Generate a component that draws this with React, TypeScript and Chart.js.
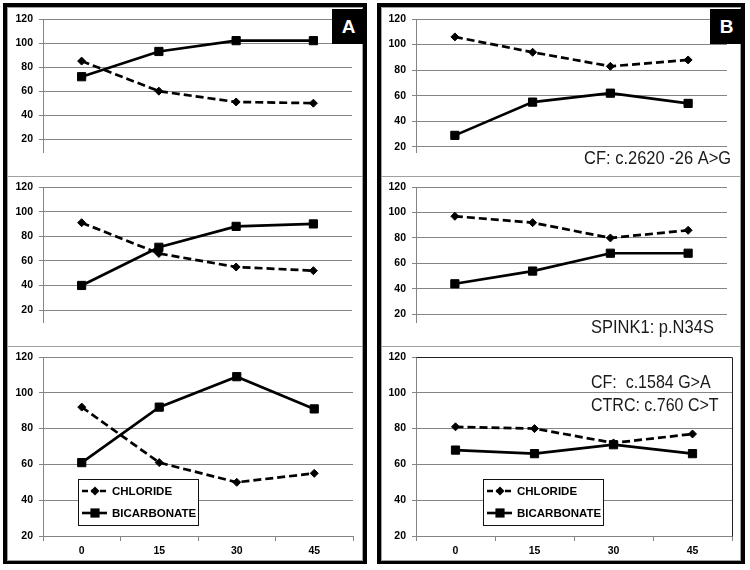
import React, { useEffect, useRef } from "react";
import { Chart, registerables } from "chart.js";

Chart.register(...registerables);

// ---------- data ----------
const timePoints = ["0", "15", "30", "45"];
const yTickValues = [20, 40, 60, 80, 100, 120];
const seriesNames = ["CHLORIDE", "BICARBONATE"];

const chlorideA1 = [85, 60, 51, 50];
const bicarbonateA1 = [72, 93, 102, 102];
const chlorideA2 = [91, 66, 55, 52];
const bicarbonateA2 = [40, 71, 88, 90];
const chlorideA3 = [92, 61, 50, 55];
const bicarbonateA3 = [61, 92, 109, 91];

const chlorideB1 = [106, 94, 83, 88];
const bicarbonateB1 = [29, 55, 62, 54];
const chlorideB2 = [97, 92, 80, 86];
const bicarbonateB2 = [44, 54, 68, 68];
const chlorideB3 = [81, 80, 72, 77];
const bicarbonateB3 = [68, 66, 71, 66];

const notesB1 = ["CF: c.2620 -26 A>G"];
const notesB2 = ["SPINK1: p.N34S"];
const notesB3 = ["CF:  c.1584 G>A", "CTRC: c.760 C>T"];

const panelLetters = ["A", "B"];

// ---------- styles ----------
const FONT = "'Liberation Sans', Arial, sans-serif";
const GRID = "#858585";
const INK = "#000000";

type PanelSpec = {
  key: string;
  left: number;
  top: number;
  width: number;
  height: number;
  axisWidth: number;
  padRight: number;
  padTop: number;
  yMin: number;
  showX: boolean;
  chloride: number[];
  bicarbonate: number[];
  legendAt?: [number, number];
  notes?: string[];
  noteX?: number;
  noteBaselines?: number[];
  noteSize?: number;
  boxed?: boolean;
};

const panels: PanelSpec[] = [
  { key: "A1", left: 7, top: 7, width: 356, height: 169, axisWidth: 36, padRight: 11, padTop: 12, yMin: 9.4, showX: false, chloride: chlorideA1, bicarbonate: bicarbonateA1 },
  { key: "A2", left: 7, top: 176, width: 356, height: 170, axisWidth: 36, padRight: 11, padTop: 11, yMin: 10.3, showX: false, chloride: chlorideA2, bicarbonate: bicarbonateA2 },
  { key: "A3", left: 7, top: 346, width: 356, height: 214, axisWidth: 36, padRight: 10, padTop: 11, yMin: 20, showX: true, chloride: chlorideA3, bicarbonate: bicarbonateA3, legendAt: [71, 133] },
  { key: "B1", left: 381, top: 7, width: 360, height: 169, axisWidth: 35, padRight: 14, padTop: 12, yMin: 16, showX: false, chloride: chlorideB1, bicarbonate: bicarbonateB1, notes: notesB1, noteX: 203, noteBaselines: [157], noteSize: 16.5 },
  { key: "B2", left: 381, top: 176, width: 360, height: 170, axisWidth: 35, padRight: 14, padTop: 11, yMin: 14, showX: false, chloride: chlorideB2, bicarbonate: bicarbonateB2, notes: notesB2, noteX: 210, noteBaselines: [157], noteSize: 16.5 },
  { key: "B3", left: 381, top: 346, width: 360, height: 214, axisWidth: 35, padRight: 9, padTop: 11, yMin: 20, showX: true, chloride: chlorideB3, bicarbonate: bicarbonateB3, legendAt: [102, 133], notes: notesB3, noteX: 210, noteBaselines: [42, 65], noteSize: 16, boxed: true },
];

function drawMarker(ctx: CanvasRenderingContext2D, style: string, x: number, y: number, r: number) {
  ctx.beginPath();
  if (style === "rectRot") {
    ctx.moveTo(x, y - r);
    ctx.lineTo(x + r, y);
    ctx.lineTo(x, y + r);
    ctx.lineTo(x - r, y);
    ctx.closePath();
  } else {
    const h = r * Math.SQRT1_2;
    ctx.rect(x - h, y - h, 2 * h, 2 * h);
  }
  ctx.fill();
}

function makeDecor(spec: PanelSpec) {
  return {
    id: "panelDecor" + spec.key,
    beforeDatasetsDraw(chart: any) {
      if (!spec.boxed) return;
      const { ctx, chartArea: a } = chart;
      ctx.save();
      ctx.strokeStyle = "#222";
      ctx.lineWidth = 1;
      ctx.beginPath();
      ctx.moveTo(Math.round(a.left) + 0.5, Math.round(a.top) + 0.5);
      ctx.lineTo(Math.round(a.right) + 0.5, Math.round(a.top) + 0.5);
      ctx.lineTo(Math.round(a.right) + 0.5, Math.round(a.bottom) + 0.5);
      ctx.stroke();
      ctx.restore();
    },
    afterDraw(chart: any) {
      const ctx: CanvasRenderingContext2D = chart.ctx;
      ctx.save();
      if (spec.notes && spec.noteBaselines) {
        ctx.fillStyle = "#1a1a1a";
        ctx.font = `${spec.noteSize || 16}px ${FONT}`;
        ctx.textAlign = "left";
        ctx.textBaseline = "alphabetic";
        spec.notes.forEach((t, i) => {
          ctx.save();
          ctx.translate(spec.noteX || 0, spec.noteBaselines![i]);
          ctx.scale(1, 1.12);
          ctx.fillText(t, 0, 0);
          ctx.restore();
        });
      }
      if (spec.legendAt) {
        const [bx, by] = spec.legendAt;
        const bw = 120;
        const bh = 46;
        ctx.fillStyle = "#ffffff";
        ctx.fillRect(bx, by, bw, bh);
        ctx.strokeStyle = "#111";
        ctx.lineWidth = 1;
        ctx.strokeRect(bx + 0.5, by + 0.5, bw, bh);
        chart.data.datasets.forEach((ds: any, i: number) => {
          const cy = by + 12 + i * 22;
          ctx.strokeStyle = INK;
          ctx.lineWidth = 2.6;
          ctx.setLineDash(ds.borderDash ? [6, 3] : []);
          ctx.beginPath();
          ctx.moveTo(bx + 4, cy);
          ctx.lineTo(bx + 29, cy);
          ctx.stroke();
          ctx.setLineDash([]);
          ctx.fillStyle = INK;
          drawMarker(ctx, ds.pointStyle, bx + 17, cy, ds.pointStyle === "rectRot" ? 4.5 : 6.5);
          ctx.font = `bold 11.5px ${FONT}`;
          ctx.textAlign = "left";
          ctx.textBaseline = "middle";
          ctx.fillText(ds.label, bx + 34, cy + 0.5);
        });
      }
      ctx.restore();
    },
  };
}

function buildConfig(spec: PanelSpec): any {
  return {
    type: "line",
    data: {
      labels: timePoints,
      datasets: [
        {
          label: seriesNames[0],
          data: spec.chloride,
          borderColor: INK,
          backgroundColor: INK,
          borderWidth: 2.7,
          borderDash: [8, 4],
          pointStyle: "rectRot",
          pointRadius: 4,
          pointBorderWidth: 1,
          pointBorderColor: INK,
          pointBackgroundColor: INK,
          tension: 0,
        },
        {
          label: seriesNames[1],
          data: spec.bicarbonate,
          borderColor: INK,
          backgroundColor: INK,
          borderWidth: 2.7,
          pointStyle: "rect",
          pointRadius: 5.8,
          pointBorderWidth: 1,
          pointBorderColor: INK,
          pointBackgroundColor: INK,
          tension: 0,
        },
      ],
    },
    options: {
      animation: false,
      responsive: false,
      maintainAspectRatio: false,
      layout: { padding: { left: 0, right: spec.padRight, top: spec.padTop, bottom: 0 } },
      plugins: {
        legend: { display: false },
        tooltip: { enabled: false },
        title: { display: false },
      },
      scales: {
        x: {
          type: "category",
          offset: true,
          display: spec.showX,
          grid: { offset: true, drawOnChartArea: false, drawTicks: true, tickLength: 5, color: GRID, lineWidth: 1 },
          border: { display: true, color: GRID, width: 1 },
          ticks: { color: INK, padding: 4, maxRotation: 0, autoSkip: false, font: { family: FONT, size: 10.5, weight: "bold" } },
          afterFit: (s: any) => {
            s.height = 24;
            s.paddingLeft = 0;
            s.paddingRight = 0;
          },
        },
        y: {
          type: "linear",
          min: spec.yMin,
          max: 120,
          afterBuildTicks: (s: any) => {
            s.ticks = yTickValues.map((v) => ({ value: v }));
          },
          grid: { color: GRID, lineWidth: 1, tickLength: 4, drawTicks: true },
          border: { display: true, color: GRID, width: 1 },
          ticks: { color: INK, padding: 6, font: { family: FONT, size: 10.5, weight: "bold" } },
          afterFit: (s: any) => {
            s.width = spec.axisWidth;
            s.paddingTop = 0;
            s.paddingBottom = 0;
          },
        },
      },
    },
    plugins: [makeDecor(spec)],
  };
}

function ChartPanel({ spec }: { spec: PanelSpec }) {
  const ref = useRef<HTMLCanvasElement | null>(null);
  useEffect(() => {
    if (!ref.current) return;
    const chart = new Chart(ref.current, buildConfig(spec));
    return () => chart.destroy();
  }, [spec]);
  return (
    <canvas
      ref={ref}
      width={spec.width}
      height={spec.height}
      style={{ position: "absolute", left: spec.left, top: spec.top, width: spec.width, height: spec.height }}
    />
  );
}

export default function App() {
  const frames = [
    { left: 3, width: 364 },
    { left: 377, width: 368 },
  ];
  const letterBoxes = [
    { left: 332, top: 9 },
    { left: 710, top: 9 },
  ];
  return (
    <div style={{ position: "absolute", left: 0, top: 0, width: 750, height: 570, background: "#fff", overflow: "hidden" }}>
      {frames.map((f, i) => (
        <div
          key={"frame" + i}
          style={{
            position: "absolute",
            left: f.left,
            top: 3,
            width: f.width,
            height: 561,
            border: "4px solid #000",
            boxSizing: "border-box",
          }}
        />
      ))}
      {panels.map((p) => (
        <div
          key={"box" + p.key}
          style={{
            position: "absolute",
            left: p.left,
            top: p.top,
            width: p.width,
            height: p.height + 1,
            border: "1px solid #a0a0a0",
            boxSizing: "border-box",
          }}
        />
      ))}
      {panels.map((p) => (
        <ChartPanel key={p.key} spec={p} />
      ))}
      {letterBoxes.map((b, i) => (
        <div
          key={"letter" + i}
          style={{
            position: "absolute",
            left: b.left,
            top: b.top,
            width: 33,
            height: 35,
            background: "#000",
            color: "#fff",
            fontFamily: FONT,
            fontWeight: "bold",
            fontSize: 19,
            lineHeight: "35px",
            textAlign: "center",
          }}
        >
          {panelLetters[i]}
        </div>
      ))}
    </div>
  );
}
